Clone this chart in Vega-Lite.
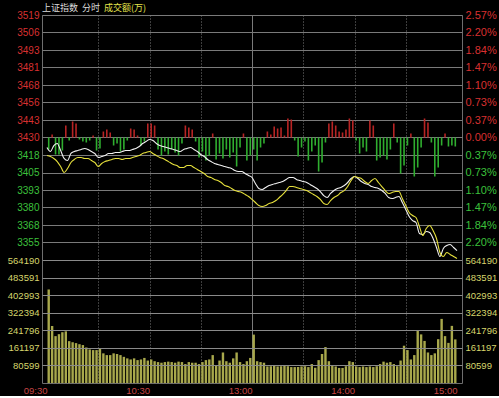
{
"$schema": "https://vega.github.io/schema/vega-lite/v6.json",
"background": "#000000",
"padding": {"left": 6, "top": 3, "right": 4, "bottom": 1},
"autosize": {"type": "pad"},
"spacing": 0,
"bounds": "flush",
"title": {"text": "成交额(万)", "anchor": "start", "frame": "group", "dx": 62, "dy": 9, "offset": 0, "color": "#e4e44c", "fontSize": 9, "font": "Noto Sans CJK SC", "fontWeight": "normal"},
"config": {
  "view": {"stroke": "#6e6e6e", "strokeWidth": 1},
  "axis": {"labelFont": "Liberation Sans", "domain": false, "ticks": false, "labelOverlap": false, "labelFlush": false, "title": null},
  "title": {"font": "Noto Sans CJK SC", "fontWeight": "normal", "fontSize": 9}
},
"datasets": {
"ts": [
{"m":0,"w":3423.2,"y":3417.4},{"m":2,"w":3420.3,"y":3416.7},{"m":4,"w":3424.6,"y":3415.3},{"m":6,"w":3426.1,"y":3413.1},{"m":8,"w":3421.0,"y":3409.5},{"m":10,"w":3415.3,"y":3405.2},{"m":12,"w":3413.8,"y":3408.1},{"m":14,"w":3418.9,"y":3412.4},{"m":16,"w":3420.3,"y":3414.6},{"m":18,"w":3421.0,"y":3416.0},
{"m":20,"w":3421.8,"y":3416.0},{"m":22,"w":3422.5,"y":3415.3},{"m":24,"w":3421.8,"y":3415.3},{"m":26,"w":3420.3,"y":3413.8},{"m":28,"w":3418.9,"y":3412.4},{"m":30,"w":3416.0,"y":3409.5},{"m":32,"w":3416.7,"y":3411.7},{"m":34,"w":3417.4,"y":3413.1},{"m":36,"w":3418.9,"y":3413.8},{"m":38,"w":3418.9,"y":3414.6},
{"m":40,"w":3419.6,"y":3415.3},{"m":42,"w":3419.6,"y":3415.3},{"m":44,"w":3420.3,"y":3414.6},{"m":46,"w":3421.0,"y":3415.3},{"m":48,"w":3421.0,"y":3415.3},{"m":50,"w":3421.8,"y":3416.0},{"m":52,"w":3422.5,"y":3416.7},{"m":54,"w":3423.9,"y":3417.4},{"m":56,"w":3426.1,"y":3418.9},{"m":58,"w":3427.5,"y":3419.6},
{"m":60,"w":3429.0,"y":3420.3},{"m":62,"w":3428.2,"y":3418.9},{"m":64,"w":3426.1,"y":3417.4},{"m":66,"w":3424.6,"y":3416.0},{"m":68,"w":3423.9,"y":3415.3},{"m":70,"w":3423.2,"y":3413.8},{"m":72,"w":3422.5,"y":3412.4},{"m":74,"w":3421.8,"y":3411.0},{"m":76,"w":3421.0,"y":3410.2},{"m":78,"w":3420.3,"y":3408.8},
{"m":80,"w":3421.8,"y":3408.8},{"m":82,"w":3422.5,"y":3410.2},{"m":84,"w":3423.2,"y":3410.2},{"m":86,"w":3421.8,"y":3408.8},{"m":88,"w":3420.3,"y":3407.4},{"m":90,"w":3418.2,"y":3405.9},{"m":92,"w":3416.7,"y":3404.5},{"m":94,"w":3414.6,"y":3402.3},{"m":96,"w":3413.1,"y":3401.6},{"m":98,"w":3411.7,"y":3400.2},
{"m":100,"w":3411.0,"y":3399.4},{"m":102,"w":3410.2,"y":3398.0},{"m":104,"w":3409.5,"y":3395.8},{"m":106,"w":3408.8,"y":3395.1},{"m":108,"w":3408.1,"y":3393.7},{"m":110,"w":3406.6,"y":3392.2},{"m":112,"w":3405.9,"y":3391.5},{"m":114,"w":3405.9,"y":3390.8},{"m":116,"w":3404.5,"y":3389.4},{"m":118,"w":3403.0,"y":3387.9},
{"m":120,"w":3401.6,"y":3385.8},{"m":122,"w":3397.3,"y":3383.6},{"m":124,"w":3393.7,"y":3381.4},{"m":126,"w":3393.0,"y":3380.7},{"m":128,"w":3394.4,"y":3381.4},{"m":130,"w":3395.8,"y":3382.9},{"m":132,"w":3396.6,"y":3383.6},{"m":134,"w":3397.3,"y":3385.0},{"m":136,"w":3398.0,"y":3387.2},{"m":138,"w":3398.7,"y":3389.4},
{"m":140,"w":3400.2,"y":3392.2},{"m":142,"w":3401.6,"y":3395.1},{"m":144,"w":3401.6,"y":3395.1},{"m":146,"w":3400.2,"y":3394.4},{"m":148,"w":3399.4,"y":3393.7},{"m":150,"w":3398.7,"y":3393.0},{"m":152,"w":3398.0,"y":3392.2},{"m":154,"w":3396.6,"y":3390.8},{"m":156,"w":3395.1,"y":3389.4},{"m":158,"w":3393.7,"y":3387.9},
{"m":160,"w":3391.5,"y":3385.8},{"m":162,"w":3388.6,"y":3382.9},{"m":164,"w":3387.2,"y":3382.2},{"m":166,"w":3390.1,"y":3385.0},{"m":168,"w":3392.2,"y":3387.2},{"m":170,"w":3393.7,"y":3388.6},{"m":172,"w":3394.4,"y":3390.8},{"m":174,"w":3395.8,"y":3392.2},{"m":176,"w":3398.0,"y":3395.1},{"m":178,"w":3400.9,"y":3399.4},
{"m":180,"w":3402.3,"y":3402.3},{"m":182,"w":3400.9,"y":3401.6},{"m":184,"w":3398.7,"y":3400.9},{"m":186,"w":3397.3,"y":3398.7},{"m":188,"w":3396.6,"y":3397.3},{"m":190,"w":3395.1,"y":3399.4},{"m":192,"w":3394.4,"y":3400.9},{"m":194,"w":3393.7,"y":3398.0},{"m":196,"w":3392.2,"y":3395.1},{"m":198,"w":3390.1,"y":3392.2},
{"m":200,"w":3387.2,"y":3390.1},{"m":202,"w":3386.5,"y":3390.8},{"m":204,"w":3387.2,"y":3391.5},{"m":206,"w":3387.9,"y":3391.5},{"m":208,"w":3383.6,"y":3386.5},{"m":210,"w":3378.6,"y":3381.4},{"m":212,"w":3373.5,"y":3376.4},{"m":214,"w":3370.6,"y":3374.2},{"m":216,"w":3369.2,"y":3372.8},{"m":218,"w":3361.3,"y":3366.3},
{"m":220,"w":3360.6,"y":3359.8},{"m":222,"w":3362.7,"y":3364.9},{"m":224,"w":3362.0,"y":3367.0},{"m":226,"w":3357.7,"y":3363.4},{"m":228,"w":3351.2,"y":3357.7},{"m":230,"w":3344.7,"y":3347.6},{"m":232,"w":3350.5,"y":3344.7},{"m":234,"w":3352.6,"y":3347.6},{"m":236,"w":3353.4,"y":3346.2},{"m":238,"w":3351.2,"y":3344.7},
{"m":240,"w":3349.0,"y":3343.3}
],
"bars": [
{"m":1,"d":-12,"v":429000},{"m":3,"d":3,"v":262000},{"m":5,"d":-17,"v":215000},{"m":7,"d":-17,"v":224000},{"m":9,"d":-13,"v":233000},{"m":11,"d":12,"v":237000},{"m":13,"d":-3,"v":192000},{"m":15,"d":16,"v":187000},{"m":17,"d":14,"v":183000},{"m":19,"d":-2,"v":178000},
{"m":21,"d":-4,"v":174000},{"m":23,"d":-5,"v":163000},{"m":25,"d":-3,"v":154000},{"m":27,"d":2,"v":151000},{"m":29,"d":-13,"v":151000},{"m":31,"d":-11,"v":157000},{"m":33,"d":6,"v":136000},{"m":35,"d":8,"v":128000},{"m":37,"d":5,"v":128000},{"m":39,"d":-8,"v":136000},
{"m":41,"d":-6,"v":133000},{"m":43,"d":-14,"v":128000},{"m":45,"d":-12,"v":120000},{"m":47,"d":-3,"v":113000},{"m":49,"d":9,"v":108000},{"m":51,"d":8,"v":113000},{"m":53,"d":2,"v":105000},{"m":55,"d":-8,"v":108000},{"m":57,"d":-4,"v":115000},{"m":59,"d":14,"v":103000},
{"m":61,"d":14,"v":108000},{"m":63,"d":12,"v":100000},{"m":65,"d":-12,"v":96000},{"m":67,"d":-18,"v":93000},{"m":69,"d":-14,"v":96000},{"m":71,"d":-17,"v":98000},{"m":73,"d":-12,"v":96000},{"m":75,"d":-15,"v":93000},{"m":77,"d":-18,"v":98000},{"m":79,"d":-6,"v":96000},
{"m":81,"d":12,"v":87000},{"m":83,"d":10,"v":96000},{"m":85,"d":8,"v":93000},{"m":87,"d":-4,"v":93000},{"m":89,"d":-20,"v":87000},{"m":91,"d":-14,"v":96000},{"m":93,"d":-23,"v":105000},{"m":95,"d":-18,"v":108000},{"m":97,"d":4,"v":128000},{"m":99,"d":-22,"v":79000},
{"m":101,"d":-16,"v":103000},{"m":103,"d":-21,"v":140000},{"m":105,"d":-12,"v":100000},{"m":107,"d":-20,"v":93000},{"m":109,"d":-15,"v":113000},{"m":111,"d":-29,"v":140000},{"m":113,"d":-10,"v":96000},{"m":115,"d":4,"v":87000},{"m":117,"d":-23,"v":100000},{"m":119,"d":-18,"v":115000},
{"m":121,"d":-12,"v":222000},{"m":123,"d":-23,"v":100000},{"m":125,"d":-10,"v":96000},{"m":127,"d":-6,"v":93000},{"m":129,"d":6,"v":76000},{"m":131,"d":3,"v":77000},{"m":133,"d":11,"v":79000},{"m":135,"d":9,"v":76000},{"m":137,"d":10,"v":77000},{"m":139,"d":2,"v":79000},
{"m":141,"d":19,"v":77000},{"m":143,"d":18,"v":73000},{"m":145,"d":-3,"v":73000},{"m":147,"d":-19,"v":73000},{"m":149,"d":-10,"v":76000},{"m":151,"d":-4,"v":77000},{"m":153,"d":-23,"v":73000},{"m":155,"d":-14,"v":87000},{"m":157,"d":-8,"v":70000},{"m":159,"d":-34,"v":105000},
{"m":161,"d":-25,"v":133000},{"m":163,"d":-5,"v":165000},{"m":165,"d":14,"v":100000},{"m":167,"d":16,"v":79000},{"m":169,"d":12,"v":76000},{"m":171,"d":6,"v":69000},{"m":173,"d":5,"v":69000},{"m":175,"d":8,"v":77000},{"m":177,"d":19,"v":100000},{"m":179,"d":17,"v":96000},
{"m":181,"d":-3,"v":76000},{"m":183,"d":-16,"v":73000},{"m":185,"d":-10,"v":76000},{"m":187,"d":-14,"v":73000},{"m":189,"d":17,"v":76000},{"m":191,"d":12,"v":73000},{"m":193,"d":-23,"v":77000},{"m":195,"d":-20,"v":87000},{"m":197,"d":-18,"v":98000},{"m":199,"d":-22,"v":93000},
{"m":201,"d":-12,"v":96000},{"m":203,"d":14,"v":87000},{"m":205,"d":-5,"v":77000},{"m":207,"d":-36,"v":103000},{"m":209,"d":-28,"v":171000},{"m":211,"d":-8,"v":151000},{"m":213,"d":4,"v":108000},{"m":215,"d":-39,"v":128000},{"m":217,"d":-30,"v":239000},{"m":219,"d":-10,"v":223000},
{"m":221,"d":19,"v":193000},{"m":223,"d":15,"v":140000},{"m":225,"d":-5,"v":128000},{"m":227,"d":-39,"v":136000},{"m":229,"d":-30,"v":201000},{"m":231,"d":-8,"v":294000},{"m":233,"d":4,"v":215000},{"m":235,"d":-9,"v":184000},{"m":237,"d":-8,"v":262000},{"m":239,"d":-9,"v":200000}
]
},
"vconcat": [
{
  "width": 420, "height": 245,
  "title": {"text": "上证指数\u00a0\u00a0分时", "anchor": "start", "frame": "group", "offset": 0, "dy": 4, "color": "#dcdcdc", "fontSize": 9},
  "layer": [
    {
      "data": {"name": "bars"},
      "mark": {"type": "bar", "width": 1.6},
      "encoding": {
        "x": {"field": "m", "type": "quantitative", "scale": {"domain": [0, 240], "nice": false, "zero": false},
          "axis": {"values": [30, 60, 90, 120, 150, 180, 210], "labels": false, "grid": true, "gridColor": "#7a7a7a", "gridWidth": 1,
                   "gridDash": {"condition": {"test": "datum.value == 120", "value": []}, "value": [1, 2]}}},
        "y": {"field": "d", "type": "quantitative", "scale": {"domain": [-122.5, 122.5], "nice": false, "zero": false},
          "axis": {"orient": "right", "grid": false, "labelPadding": 3, "labelFontSize": 11,
                   "values": [122.5, 105, 87.5, 70, 52.5, 35, 17.5, 0, -17.5, -35, -52.5, -70, -87.5, -105],
                   "labelExpr": "format(abs(datum.value) * 2.571 / 122.5, '.2f') + '%'",
                   "labelColor": {"condition": {"test": "datum.value >= 0", "value": "#d83030"}, "value": "#3cc03c"}}},
        "y2": {"datum": 0},
        "color": {"condition": {"test": "datum.d >= 0", "value": "#b82424"}, "value": "#2fae2f"}
      }
    },
    {
      "data": {"name": "ts"},
      "transform": [{"fold": ["w", "y"], "as": ["series", "price"]}],
      "mark": {"type": "line", "strokeWidth": 1.1, "interpolate": "monotone"},
      "encoding": {
        "x": {"field": "m", "type": "quantitative"},
        "y": {"field": "price", "type": "quantitative", "scale": {"domain": [3342.2, 3518.6], "nice": false, "zero": false},
          "axis": {"orient": "left", "grid": true, "gridColor": "#7a7a7a", "gridWidth": 1, "labelPadding": 3, "labelFontSize": 10,
                   "values": [3518.6, 3506.0, 3493.4, 3480.8, 3468.2, 3455.6, 3443.0, 3430.4, 3417.8, 3405.2, 3392.6, 3380.0, 3367.4, 3354.8],
                   "labelExpr": "datum.value > 3367 && datum.value < 3368 ? '3368' : format(datum.value, '.0f')",
                   "labelColor": {"condition": {"test": "datum.value >= 3430", "value": "#d83030"}, "value": "#3cc03c"}}},
        "color": {"field": "series", "type": "nominal", "scale": {"domain": ["w", "y"], "range": ["#f0f0f0", "#e6e03c"]}, "legend": null}
      }
    }
  ],
  "resolve": {"scale": {"y": "independent"}}
},
{
  "width": 420, "height": 123,
  "data": {"name": "bars"},
  "layer": [
    {
      "mark": {"type": "bar", "width": 2.4, "color": "#a8a84c"},
      "encoding": {
        "x": {"field": "m", "type": "quantitative", "scale": {"domain": [0, 240], "nice": false, "zero": false},
          "axis": {"values": [0, 30, 60, 90, 120, 150, 180, 210, 240], "grid": true, "gridColor": "#7a7a7a", "gridWidth": 1,
                   "gridDash": {"condition": {"test": "datum.value == 120", "value": []}, "value": [1, 2]},
                   "gridOpacity": {"condition": {"test": "datum.value == 0 || datum.value == 240", "value": 0}, "value": 1},
                   "labelExpr": "datum.value == 0 ? '09:30' : datum.value == 60 ? '10:30' : datum.value == 120 ? '13:00' : datum.value == 180 ? '14:00' : datum.value == 240 ? '15:00' : ''",
                   "labelAlign": "right", "labelBaseline": "top", "labelPadding": 2, "labelFontSize": 9.5, "labelColor": "#c84444"}},
        "y": {"field": "v", "type": "quantitative", "scale": {"domain": [0, 564190], "nice": false, "zero": false},
          "axis": {"orient": "left", "grid": true, "gridColor": "#8a8a8a", "gridWidth": 1, "zindex": 1, "labelPadding": 3, "labelFontSize": 9.5, "labelColor": "#d6d66c",
                   "values": [80598.57, 161197.14, 241795.71, 322394.29, 402992.86, 483591.43, 564190], "format": ".0f"}}
      }
    },
    {
      "mark": {"type": "bar", "width": 2.4, "opacity": 0},
      "encoding": {
        "x": {"field": "m", "type": "quantitative"},
        "y": {"field": "v", "type": "quantitative", "scale": {"domain": [0, 564190], "nice": false, "zero": false},
          "axis": {"orient": "right", "grid": false, "labelPadding": 3, "labelFontSize": 9.5, "labelColor": "#d6d66c",
                   "values": [80598.57, 161197.14, 241795.71, 322394.29, 402992.86, 483591.43, 564190], "format": ".0f"}}
      }
    }
  ],
  "resolve": {"scale": {"y": "independent"}}
}
]
}
